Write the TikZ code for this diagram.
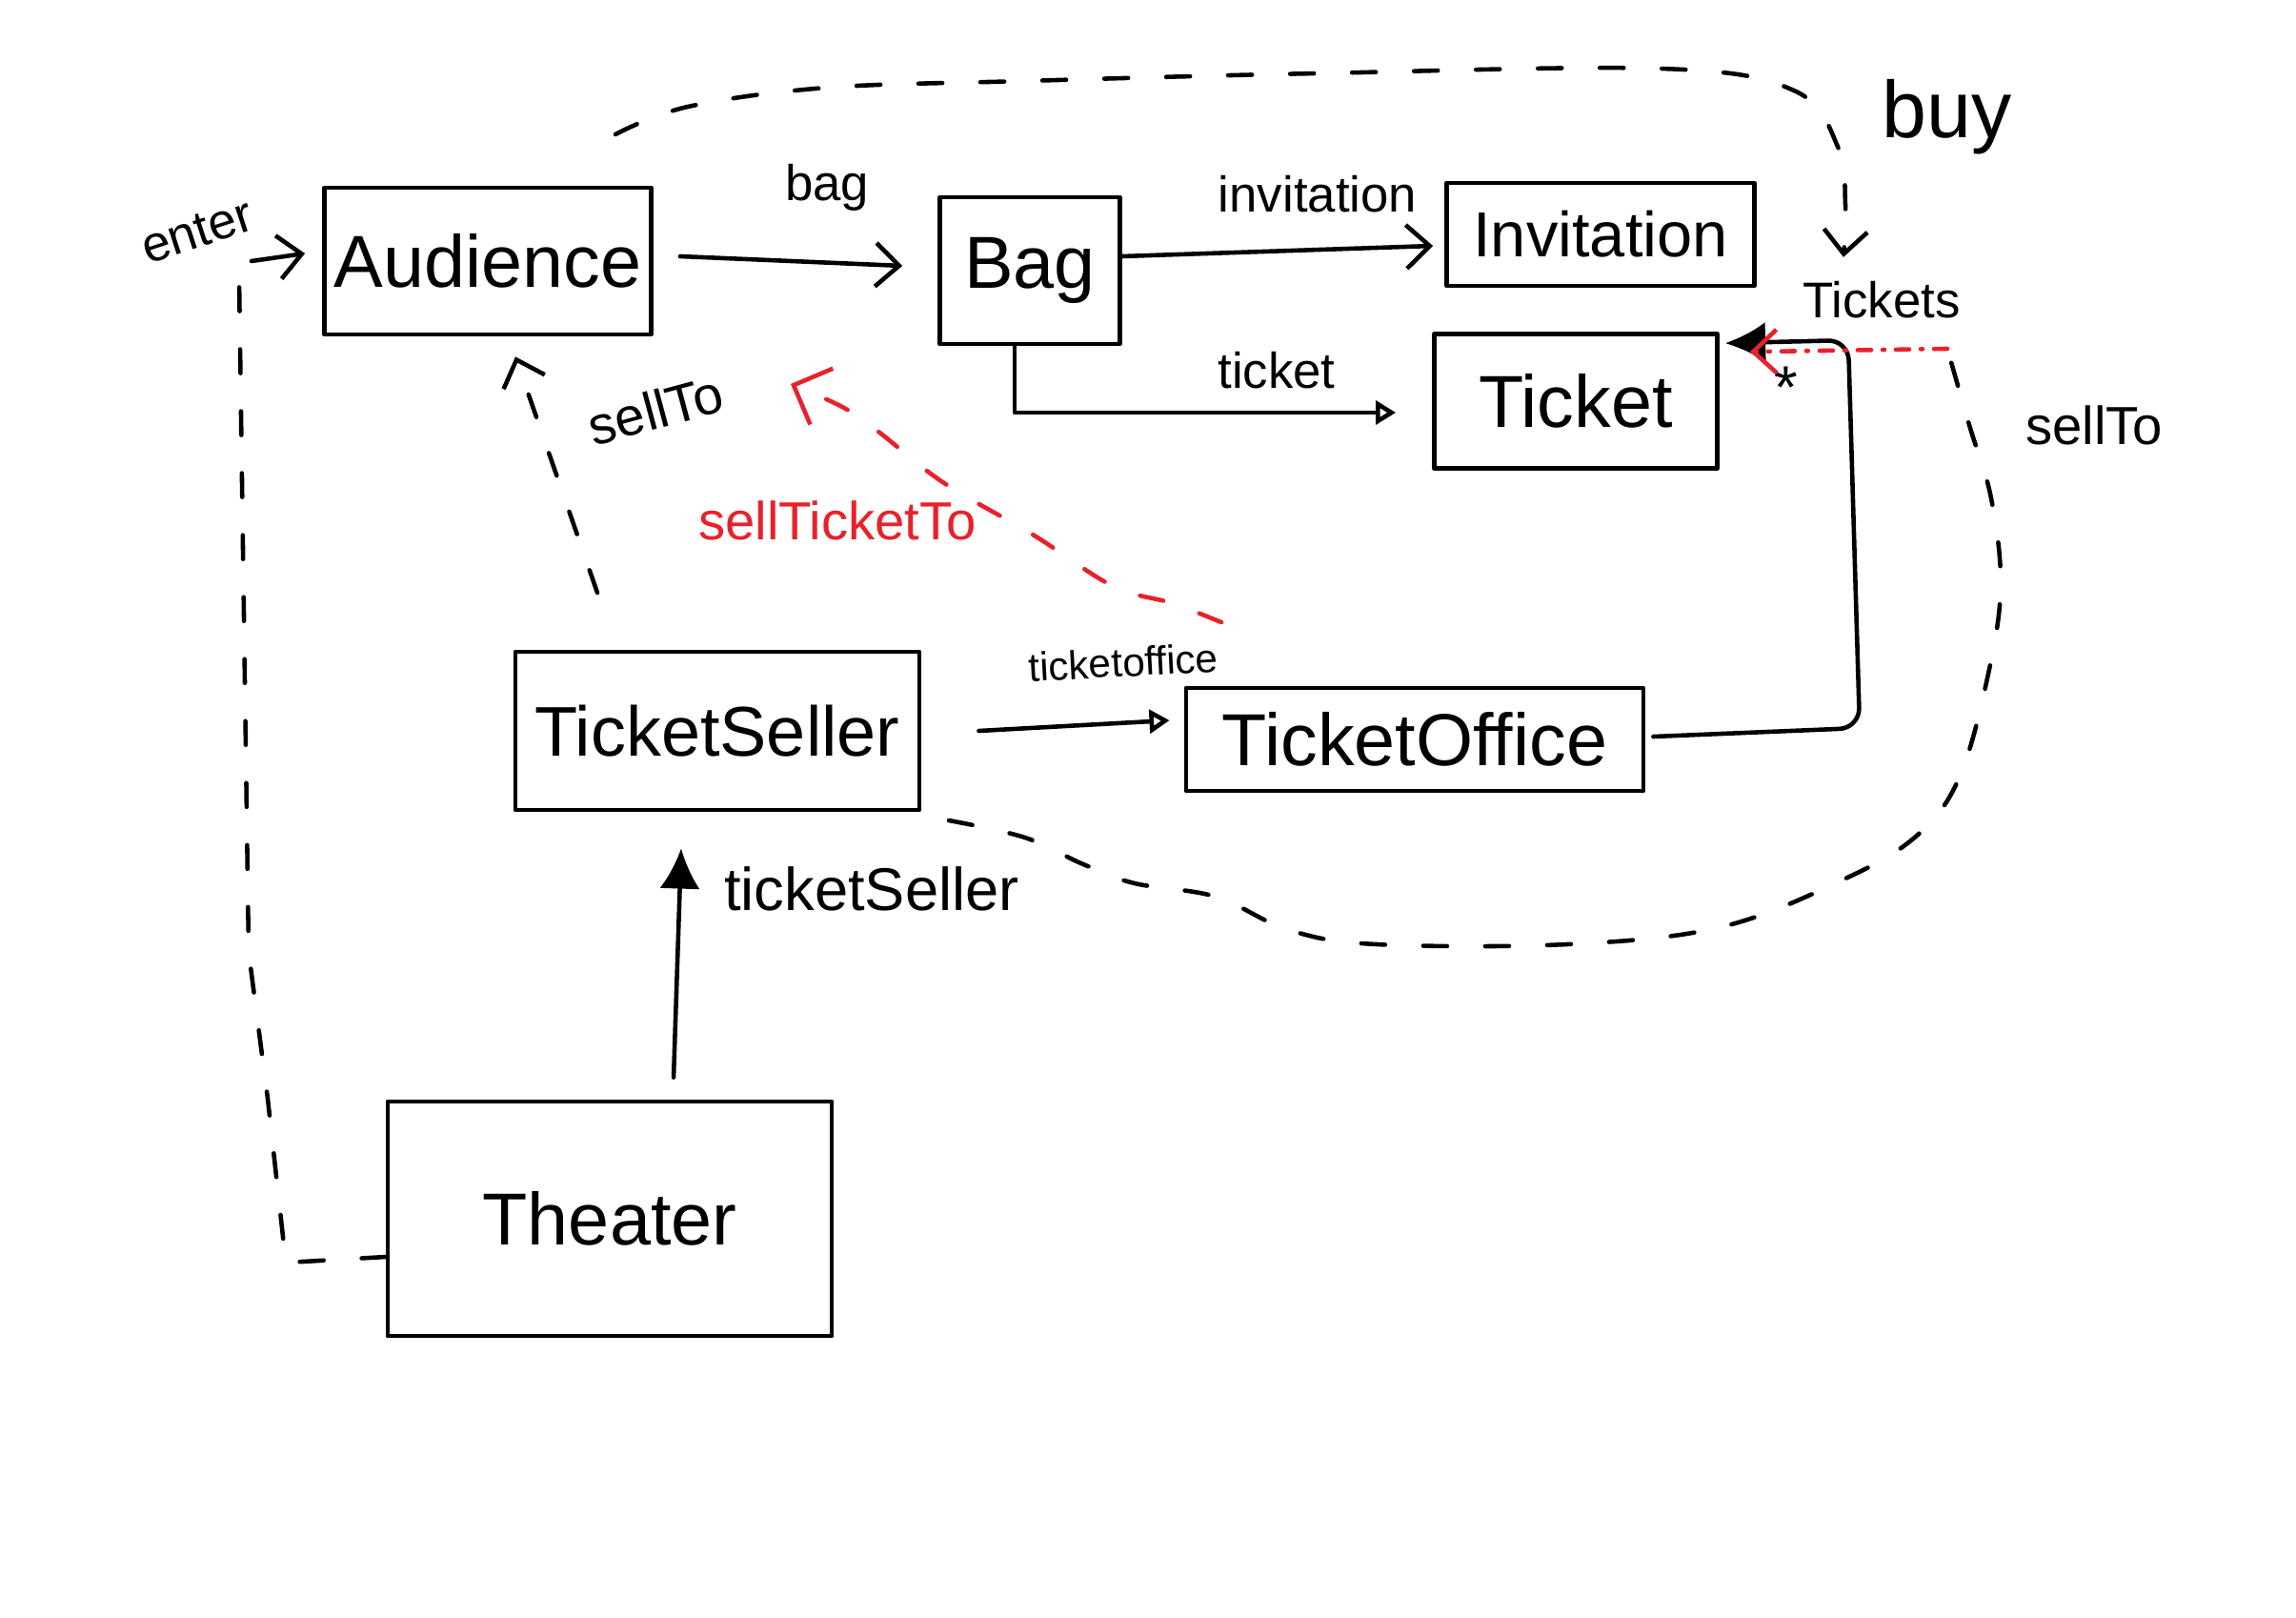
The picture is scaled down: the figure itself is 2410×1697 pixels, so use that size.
\documentclass[tikz,border=0pt]{standalone}
\usepackage{fontspec}
\setmainfont{Liberation Sans}
\usetikzlibrary{arrows.meta}
\definecolor{penred}{HTML}{E8212B}
\begin{document}
\begin{tikzpicture}[x=0.01cm,y=-0.01cm,
  line width=1.3pt, line cap=round, line join=round,
  cls/.style={draw, line width=1.3pt, inner sep=0pt, font=\fontsize{22}{26}\selectfont},
  lbl/.style={font=\fontsize{15}{18}\selectfont, inner sep=1pt},
  dsh/.style={dash pattern=on 0.25cm off 0.4cm},
  rdsh/.style={dash pattern=on 0.14cm off 0.12cm on 0.02cm off 0.12cm},
  barb/.style={-{Straight Barb[length=7pt,width=13pt]}},
  otri/.style={-{Triangle[open,length=6pt,width=7pt]}},
  ftri/.style={-{Latex[length=12pt,width=12pt]}},
]
\useasboundingbox (0,0) rectangle (2410,1697);
\fill[white] (0,0) rectangle (2410,1697);

% classes
\node[cls, minimum width=3.43cm, minimum height=1.54cm] (aud) at (512,274) {Audience};
\node[cls, minimum width=1.89cm, minimum height=1.54cm] (bag) at (1081,284) {Bag};
\node[cls, minimum width=3.23cm, minimum height=1.08cm, font=\fontsize{19}{23}\selectfont] (inv) at (1680,246) {Invitation};
\node[cls, minimum width=2.97cm, minimum height=1.41cm] (tkt) at (1654,421) {Ticket};
\node[cls, minimum width=4.24cm, minimum height=1.66cm, font=\fontsize{21}{25}\selectfont] (seller) at (753,767) {TicketSeller};
\node[cls, minimum width=4.80cm, minimum height=1.08cm] (office) at (1485,776) {TicketOffice};
\node[cls, minimum width=4.66cm, minimum height=2.46cm] (theater) at (640,1279) {Theater};

% labels
\node[lbl, rotate=18] (lenter) at (207,243) {enter};
\node[lbl] (lbag) at (868,197) {bag};
\node[lbl] (linv) at (1383,204) {invitation};
\node[lbl] (lticket) at (1340,389) {ticket};
\node[lbl] (ltickets) at (1975,315) {Tickets};
\node[lbl, font=\fontsize{24}{28}\selectfont] (lbuy) at (2044,123) {buy};
\node[lbl, font=\fontsize{16}{19}\selectfont] (lsellto2) at (2198,446) {sellTo};
\node[lbl, font=\fontsize{16}{19}\selectfont, rotate=15] (lsellto1) at (688,430) {sellTo};
\node[lbl, font=\fontsize{16}{19}\selectfont, text=penred] (lstt) at (879,546) {sellTicketTo};
\node[lbl, font=\fontsize{12}{14}\selectfont, rotate=3] (loffice) at (1179,695) {ticketoffice};
\node[lbl, font=\fontsize{18}{21}\selectfont] (lseller) at (915,933) {ticketSeller};
\node[lbl, font=\fontsize{18}{21}\selectfont] (lstar) at (1875,407) {*};

% free ends
\coordinate (enterStart) at (264,274);
\coordinate (sellToStart) at (627,622);
\coordinate (buyStart) at (646,141);
\coordinate (sell2Start) at (996,861);
\coordinate (sell2End) at (2044,366);
\coordinate (redStart) at (1282,653);
\coordinate (redEnd) at (830,403);

% associations
\draw[barb] ([xshift=0.28cm,yshift=0.05cm]aud.east) -- ([xshift=-0.37cm,yshift=0.05cm]bag.west);
\draw[barb] ([yshift=0.15cm]bag.east) -- ([xshift=-0.12cm,yshift=-0.12cm]inv.west);
\draw[otri] ([xshift=-0.16cm]bag.south) |- ([xshift=-0.38cm,yshift=-0.12cm]tkt.west);
\draw[otri] ([xshift=0.6cm]seller.east) -- ([xshift=-0.15cm,yshift=0.2cm]office.west);
\draw[ftri, rounded corners=6pt] ([xshift=0.08cm,yshift=0.03cm]office.east) -- (1952,764) -- (1940,357) -- ([xshift=0.06cm,yshift=-0.12cm]tkt.north east);
\draw[ftri] ([xshift=0.67cm,yshift=0.23cm]theater.north) -- ([xshift=-0.38cm,yshift=-0.38cm]seller.south);

% enter message
\draw[dsh] ([yshift=-0.4cm]theater.west) -- (300,1325) -- (281,1153) -- (261,999) -- (251,292);
\draw[barb] (enterStart) -- ([xshift=-0.18cm,yshift=0.08cm]aud.west);

% sellTo (left)
\draw[dsh, barb] (sellToStart) -- ([xshift=0.29cm,yshift=-0.21cm]aud.south);

% buy loop
\draw[dsh, barb] plot[smooth, tension=0.6] coordinates {(buyStart) (722,112) (868,92) (1076,85) (1383,77) (1744,72) (1883,95) (1929,154) (1937,215) ([xshift=-0.4cm,yshift=0.2cm]ltickets.north)};

% sellTo (right) loop
\draw[dsh] plot[smooth, tension=0.6] coordinates {(sell2Start) (1076,879) (1137,907) (1191,927) (1276,941) (1353,976) (1445,991) (1645,991) (1806,973) (1937,922) (2013,876) (2057,815) (2087,707) (2100,615) (2090,523) (2067,446) (sell2End)};
\draw[penred, rdsh, barb] (sell2End) -- ([xshift=0.32cm,yshift=-0.21cm]tkt.north east);

% sellTicketTo (red)
\draw[penred, dsh, -{Straight Barb[length=9pt,width=18pt]}] plot[smooth, tension=0.6] coordinates {(redStart) (1230,633) (1168,615) (1084,561) (991,507) (922,453) (884,427) (redEnd)};
\end{tikzpicture}
\end{document}
